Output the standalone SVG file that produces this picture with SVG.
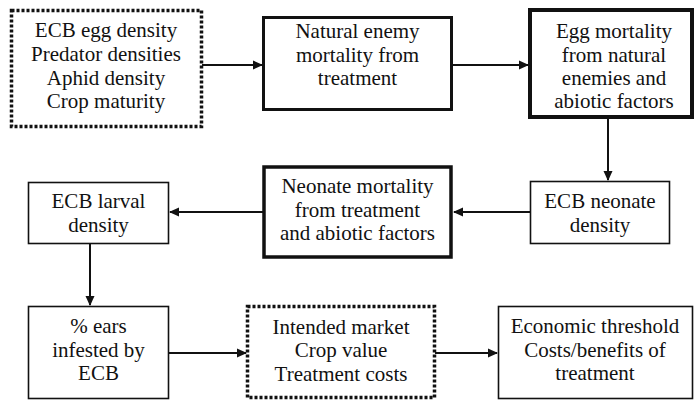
<svg xmlns="http://www.w3.org/2000/svg" width="695" height="403" viewBox="0 0 695 403">
<defs>
<style>
text{font-family:'Liberation Serif','Times New Roman',serif;font-size:21px;fill:#111;text-anchor:middle}
.box{fill:#fff;stroke:#111}
.dot{stroke-width:3.5;stroke-dasharray:3 2}
.thick{stroke-width:3.5}
.thin{stroke-width:1.6}
.conn line{stroke:#111;stroke-width:2;marker-end:url(#ah)}
</style>
<marker id="ah" markerWidth="10" markerHeight="10" refX="9" refY="5" orient="auto" markerUnits="userSpaceOnUse">
<path d="M0,0.5 L10,5 L0,9.5 Z" fill="#111"/>
</marker>
</defs>
<rect width="695" height="403" fill="#fff"/>
<g id="connectors" class="conn">
<line x1="202" y1="65" x2="262" y2="65"/>
<line x1="452" y1="65" x2="528" y2="65"/>
<line x1="608" y1="118" x2="608" y2="180"/>
<line x1="530" y1="212" x2="454" y2="212"/>
<line x1="263" y1="212" x2="170" y2="212"/>
<line x1="90" y1="243" x2="90" y2="305"/>
<line x1="168" y1="353" x2="246" y2="353"/>
<line x1="435" y1="353" x2="497" y2="353"/>
</g>
<g id="inputs">
<rect class="box dot" x="11.5" y="10.5" width="190" height="116"/>
<text x="106" y="37">ECB egg density</text>
<text x="106" y="61">Predator densities</text>
<text x="106" y="85">Aphid density</text>
<text x="106" y="108">Crop maturity</text>
</g>
<g id="natural-enemy-mortality">
<rect class="box" stroke-width="3" x="263.5" y="17.5" width="188" height="92"/>
<text x="357.5" y="38">Natural enemy</text>
<text x="357.5" y="62">mortality from</text>
<text x="357.5" y="85">treatment</text>
</g>
<g id="egg-mortality">
<rect class="box" stroke-width="4" x="530" y="10" width="162" height="107"/>
<text x="614" y="38">Egg mortality</text>
<text x="614" y="62">from natural</text>
<text x="614" y="85">enemies and</text>
<text x="614" y="108">abiotic factors</text>
</g>
<g id="ecb-neonate-density">
<rect class="box thin" x="530.5" y="181.5" width="139" height="62"/>
<text x="600" y="208">ECB neonate</text>
<text x="600" y="232">density</text>
</g>
<g id="neonate-mortality">
<rect class="box thick" x="264" y="167" width="187" height="90"/>
<text x="357.5" y="193">Neonate mortality</text>
<text x="357.5" y="217">from treatment</text>
<text x="357.5" y="240">and abiotic factors</text>
</g>
<g id="ecb-larval-density">
<rect class="box thin" x="28.5" y="182.5" width="140" height="61"/>
<text x="98.5" y="208">ECB larval</text>
<text x="98.5" y="232">density</text>
</g>
<g id="ears-infested">
<rect class="box thin" x="28.5" y="306.5" width="140" height="92"/>
<text x="98.5" y="333">% ears</text>
<text x="98.5" y="357">infested by</text>
<text x="98.5" y="380">ECB</text>
</g>
<g id="market">
<rect class="box dot" x="247.5" y="306.5" width="187" height="91"/>
<text x="341" y="334">Intended market</text>
<text x="341" y="357">Crop value</text>
<text x="341" y="381">Treatment costs</text>
</g>
<g id="economic-threshold">
<rect class="box thin" x="498.5" y="306.5" width="194" height="92"/>
<text x="595" y="333">Economic threshold</text>
<text x="595" y="357">Costs/benefits of</text>
<text x="595" y="380">treatment</text>
</g>
</svg>
